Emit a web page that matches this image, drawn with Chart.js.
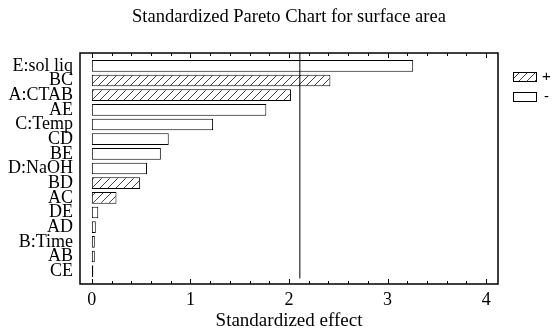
<!DOCTYPE html>
<html lang="en">
<head>
<meta charset="UTF-8">
<title>Standardized Pareto Chart</title>
<script src="https://cdn.jsdelivr.net/npm/chart.js@4"></script>
<style>
    body { margin: 0; background: #fff; }
    .contenedorGrafica { width: 554px; height: 330px; }
</style>
</head>
<body>
<div class="contenedorGrafica"><canvas id="paretoChart"></canvas></div>
<script>
// datos
const efectos = ['E:sol liq', 'BC', 'A:CTAB', 'AE', 'C:Temp', 'CD', 'BE', 'D:NaOH', 'BD', 'AC', 'DE', 'AD', 'B:Time', 'AB', 'CE'];
const valores = [3.26, 2.42, 2.02, 1.77, 1.23, 0.78, 0.70, 0.56, 0.49, 0.25, 0.065, 0.04, 0.03, 0.03, 0.015];
const signos = ['-', '+', '+', '-', '-', '-', '-', '-', '+', '+', '-', '-', '-', '-', '-'];
const limite = 2.11;
const ticksX = [0, 1, 2, 3, 4];
const ticksMenores = [];
for (let v = 0; v <= 4.001; v += 0.2) ticksMenores.push(Math.round(v * 10) / 10);

const serif = "'Liberation Serif', 'Times New Roman', serif";
const MARCO = 5.5; // espacio extra arriba/abajo entre el marco y las barras

function crearRayado() {
    const c = document.createElement('canvas');
    c.width = 8; c.height = 8;
    const g = c.getContext('2d');
    g.fillStyle = '#fff';
    g.fillRect(0, 0, 8, 8);
    g.strokeStyle = '#444';
    g.lineWidth = 1;
    g.beginPath();
    g.moveTo(0, 8); g.lineTo(8, 0);
    g.moveTo(-2, 2); g.lineTo(2, -2);
    g.moveTo(6, 10); g.lineTo(10, 6);
    g.stroke();
    return g.createPattern(c, 'repeat');
}
const rayado = crearRayado();

const extras = {
    id: 'extras',
    afterDatasetsDraw(chart) {
        const ctx = chart.ctx;
        const a = chart.chartArea;
        const x = chart.scales.x;
        const top = a.top - MARCO, bottom = a.bottom + MARCO;
        ctx.save();
        // linea de referencia
        const xl = x.getPixelForValue(limite);
        ctx.strokeStyle = '#000';
        ctx.lineWidth = 1;
        ctx.beginPath();
        ctx.moveTo(xl, top);
        ctx.lineTo(xl, a.bottom);
        ctx.stroke();
        // marco
        ctx.lineWidth = 1.5;
        ctx.strokeRect(a.left, top, a.right - a.left, bottom - top);
        // marcas hacia dentro
        ctx.lineWidth = 1;
        ctx.beginPath();
        ticksMenores.forEach(v => {
            const px = Math.round(x.getPixelForValue(v)) + 0.5;
            const len = ticksX.includes(v) ? 5 : 3;
            ctx.moveTo(px, bottom); ctx.lineTo(px, bottom - len);
            ctx.moveTo(px, top); ctx.lineTo(px, top + len);
        });
        ctx.stroke();
        // leyenda
        const items = [['+', rayado, 72, 542], ['-', '#fff', 92, 544]];
        ctx.font = "15px 'Liberation Sans', Arial, sans-serif";
        ctx.textBaseline = 'middle';
        items.forEach(([txt, fondo, y, xt]) => {
            ctx.fillStyle = fondo;
            ctx.fillRect(513, y, 23, 9);
            ctx.strokeStyle = '#000';
            ctx.strokeRect(513.5, y + 0.5, 23, 9);
            ctx.fillStyle = '#000';
            ctx.fillText(txt, xt, y + 5);
        });
        ctx.restore();
    }
};

new Chart(document.getElementById('paretoChart'), {
    type: 'bar',
    data: {
        labels: efectos,
        datasets: [{
            data: valores,
            backgroundColor: signos.map(s => s === '+' ? rayado : '#fff'),
            borderColor: '#000',
            borderWidth: 1,
            borderSkipped: false,
            barPercentage: 0.8,
            categoryPercentage: 1
        }]
    },
    options: {
        indexAxis: 'y',
        responsive: true,
        maintainAspectRatio: false,
        animation: false,
        layout: { padding: { left: 0, right: 56, top: 0, bottom: 0 } },
        plugins: {
            legend: { display: false },
            tooltip: { enabled: false },
            title: {
                display: true,
                fullSize: false,
                text: 'Standardized Pareto Chart for surface area',
                color: '#000',
                font: { family: serif, size: 18.5, weight: 'normal' },
                padding: { top: 6, bottom: 30.3 }
            }
        },
        scales: {
            x: {
                min: -0.12,
                max: 4.12,
                afterBuildTicks: s => { s.ticks = ticksX.map(v => ({ value: v })); },
                afterFit: s => { s.height = 51.5; },
                grid: { display: false, drawTicks: false },
                border: { display: false },
                ticks: { color: '#000', font: { family: serif, size: 18 }, padding: 11, maxRotation: 0 },
                title: {
                    display: true,
                    text: 'Standardized effect',
                    color: '#000',
                    font: { family: serif, size: 19, lineHeight: 0.9 },
                    padding: 0
                }
            },
            y: {
                afterFit: s => { s.width = 80; },
                grid: { display: false, drawTicks: false },
                border: { display: false },
                ticks: { color: '#000', font: { family: serif, size: 18, lineHeight: 1 }, padding: 7, autoSkip: false }
            }
        }
    },
    plugins: [extras]
});
</script>
</body>
</html>
